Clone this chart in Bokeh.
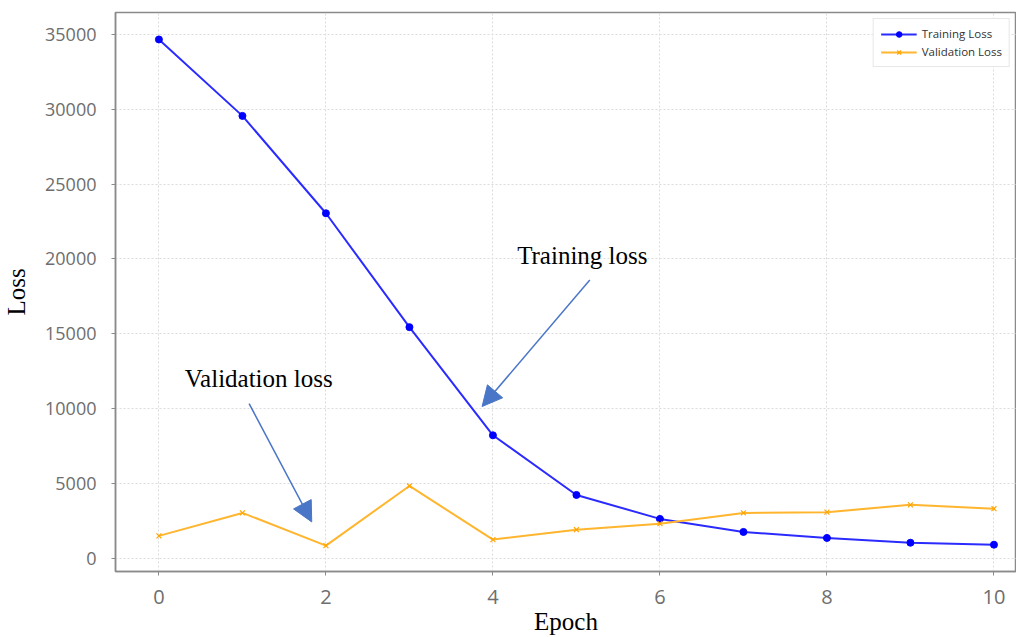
from bokeh.plotting import figure
from bokeh.models import Range1d, Arrow, NormalHead, Label, Legend, LegendItem, FixedTicker
from bokeh.embed import file_html
from bokeh.resources import INLINE

epochs = [0, 1, 2, 3, 4, 5, 6, 7, 8, 9, 10]
training_loss = [34650, 29550, 23050, 15450, 8230, 4250, 2650, 1780, 1380, 1060, 930]
validation_loss = [1520, 3050, 870, 4850, 1270, 1930, 2330, 3050, 3100, 3590, 3330]
x_ticks = [0, 2, 4, 6, 8, 10]
y_ticks = [0, 5000, 10000, 15000, 20000, 25000, 30000, 35000]

# annotation anchors (data coordinates)
train_text = (4.29, 20200)
val_text = (0.31, 12000)
train_arrow = (5.16, 18600, 3.87, 10150)
val_arrow = (1.08, 10350, 1.83, 2450)

p = figure(width=1016, height=637, output_backend="svg", toolbar_location=None,
           x_range=Range1d(-0.52, 10.27), y_range=Range1d(-860, 36450),
           min_border_left=109, min_border_top=12, min_border_right=0, min_border_bottom=63)

p.outline_line_color = "#8a8a8a"
p.outline_line_width = 1.5
p.background_fill_color = "white"
p.border_fill_color = "white"

r1 = p.line(epochs, training_loss, line_color="#2b2bff", line_width=2)
c1 = p.scatter(epochs, training_loss, marker="circle", size=7, fill_color="#0000ff", line_color="#0000ff")
r2 = p.line(epochs, validation_loss, line_color="#ffb52e", line_width=2)
c2 = p.scatter(epochs, validation_loss, marker="x", size=7, line_color="#ffa500", line_width=1.2)

legend = Legend(items=[LegendItem(label="Training Loss", renderers=[r1, c1]),
                       LegendItem(label="Validation Loss", renderers=[r2, c2])],
                location="top_right", label_text_font="Open Sans", label_text_font_size="11.5px",
                label_height=14, glyph_height=14, glyph_width=36, spacing=3, padding=7,
                margin=6, border_line_color="#d0d0d0", label_text_color="#333333")
p.add_layout(legend)

p.xaxis.ticker = FixedTicker(ticks=x_ticks)
p.yaxis.ticker = FixedTicker(ticks=y_ticks)
for ax in (p.xaxis, p.yaxis):
    ax.axis_line_color = "#8a8a8a"
    ax.axis_line_width = 1.5
    ax.major_tick_line_color = "#8a8a8a"
    ax.major_tick_out = 4
    ax.major_tick_in = 0
    ax.minor_tick_line_color = None
    ax.major_label_text_color = "#6e6e6e"
    ax.major_label_text_font = "Open Sans"
    ax.axis_label_text_font = "Liberation Serif"
    ax.axis_label_text_font_style = "normal"
    ax.axis_label_text_color = "black"
    ax.axis_label_text_font_size = "25px"

p.xaxis.axis_label = "Epoch"
p.yaxis.axis_label = "Loss"
p.xaxis.major_label_text_font_size = "20px"
p.yaxis.major_label_text_font_size = "18px"
p.xaxis.major_label_standoff = 14
p.yaxis.major_label_standoff = 15
p.xaxis.axis_label_standoff = 1
p.yaxis.axis_label_standoff = 12

p.xgrid.grid_line_color = "#dcdcdc"
p.ygrid.grid_line_color = "#dcdcdc"
p.xgrid.grid_line_dash = "2 2"
p.ygrid.grid_line_dash = "2 2"

arrow_color = "#4a76c8"
for (x0, y0, x1, y1) in (train_arrow, val_arrow):
    p.add_layout(Arrow(x_start=x0, y_start=y0, x_end=x1, y_end=y1,
                       line_color=arrow_color, line_width=1.5,
                       end=NormalHead(size=20, fill_color=arrow_color, line_color=arrow_color)))

p.add_layout(Label(x=train_text[0], y=train_text[1], text="Training loss",
                   text_font="Liberation Serif", text_font_size="25px",
                   text_baseline="middle", text_color="black"))
p.add_layout(Label(x=val_text[0], y=val_text[1], text="Validation loss",
                   text_font="Liberation Serif", text_font_size="25px",
                   text_baseline="middle", text_color="black"))

open("out.html", "w").write(file_html(p, INLINE))
